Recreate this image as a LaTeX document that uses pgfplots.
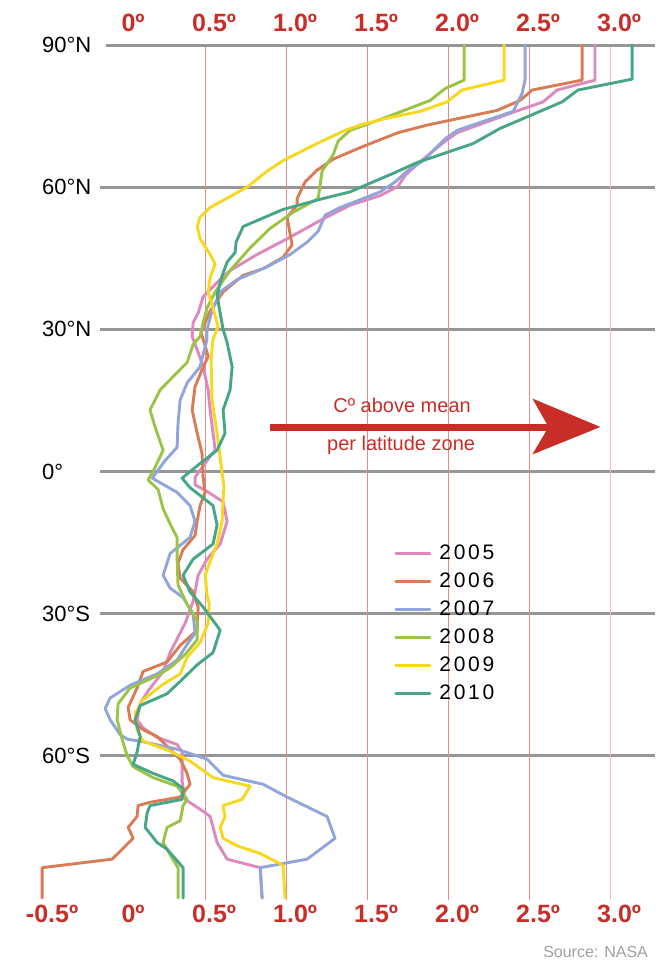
\documentclass[border=0pt]{standalone}
\usepackage{fontspec}
\setmainfont{Liberation Sans}
\newfontfamily\legfont{Liberation Sans}[LetterSpace=13]
\usepackage{pgfplots}
\pgfplotsset{compat=1.18}

\definecolor{c05}{RGB}{222,137,190}
\definecolor{c06}{RGB}{217,124,86}
\definecolor{c07}{RGB}{145,165,218}
\definecolor{c08}{RGB}{155,195,70}
\definecolor{c09}{RGB}{248,216,30}
\definecolor{c10}{RGB}{72,166,135}
\definecolor{labred}{RGB}{200,45,40}
\definecolor{gridgray}{RGB}{150,150,150}
\definecolor{vred}{RGB}{228,140,140}
\definecolor{vpale}{RGB}{240,190,190}
\definecolor{srcgray}{RGB}{160,160,160}

\begin{document}
\begin{tikzpicture}
\path[use as bounding box] (-17.5pt,-33pt) rectangle (314pt,449pt);
\pgfplotsset{base/.style={
  scale only axis, width=311.85pt, height=426.5pt,
  xmin=-0.55, xmax=3.3, ymin=-90, ymax=90,
  axis line style={draw=none}, major tick length=0pt,
  xticklabel style={font=\fontsize{12.5}{14}\selectfont\bfseries, text=labred, xshift=4.5pt},
  clip=false}}

\begin{axis}[base, xticklabel pos=upper, ytick=\empty,
  xtick={0,0.5,1,1.5,2,2.5,3},
  xticklabels={0º\hspace{5pt},0.5º,1.0º,1.5º,2.0º,2.5º,3.0º},
  xticklabel style={yshift=3pt}]
\addplot[draw=none] coordinates {(0,0)};
\end{axis}

\begin{axis}[base, xticklabel pos=lower,
  xtick={-0.5,0,0.5,1,1.5,2,2.5,3},
  xticklabels={-0.5º\hspace{12pt},0º\hspace{5pt},0.5º,1.0º,1.5º,2.0º,2.5º,3.0º},
  ytick={-60,-30,0,30,60,90},
  yticklabels={60°S,30°S,0°,30°N,60°N,90°N},
  yticklabel style={anchor=west, font=\fontsize{11}{13}\selectfont, text=black},
  legend style={draw=none, fill=none, at={(rel axis cs:0.566,0.422)}, anchor=north west,
    font=\legfont\fontsize{10.5}{12}\selectfont, row sep=3.2pt, column sep=3pt, nodes={inner sep=1pt}},
  legend cell align=left,
  legend image code/.code={\draw[#1, line width=1.5pt] (0pt,0pt) -- (17pt,0pt);},
  every axis plot/.append style={line width=1.45pt, line join=round, line cap=round}]

\pgfplotsinvokeforeach{-60,-30,0,30,60}{
  \draw[gridgray, line width=1.5pt] (axis cs:-0.15,#1) -- (axis cs:3.28,#1);
}
\draw[gridgray, line width=1.5pt] (axis cs:-0.11,90) -- (axis cs:3.28,90);
\pgfplotsinvokeforeach{0.5,1,1.5,2,2.5}{
  \draw[vred, line width=0.5pt] (axis cs:#1,89.5) -- (axis cs:#1,-90.5);
}
\draw[vpale, line width=0.6pt] (axis cs:3,89.5) -- (axis cs:3,-90.5);

\addplot[c05] coordinates {(2.907,90) (2.907,82.6) (2.673,80.5) (2.586,78.0) (2.401,75.8) (2.056,71.5) (1.963,69.2) (1.846,65.9) (1.735,62.5) (1.691,60.2) (1.580,58.2) (1.395,56.2) (1.228,53.3) (1.006,49.1) (0.821,45.8) (0.654,42.4) (0.593,40.5) (0.488,36.9) (0.457,33.4) (0.426,31.4) (0.420,28.5) (0.451,25.7) (0.488,22.1) (0.519,17.2) (0.531,13.0) (0.549,8.1) (0.562,4.5) (0.512,2.3) (0.438,-1.2) (0.438,-2.8) (0.512,-4.2) (0.611,-6.4) (0.636,-10.5) (0.593,-15.3) (0.512,-18.5) (0.457,-21.9) (0.438,-25.4) (0.426,-27.4) (0.377,-32.0) (0.284,-38.2) (0.241,-42.2) (0.148,-46.3) (0.099,-49.0) (0.080,-52.4) (0.117,-54.1) (0.204,-56.1) (0.327,-57.6) (0.358,-59.2) (0.358,-65.3) (0.377,-69.2) (0.488,-71.7) (0.531,-72.8) (0.574,-78.3) (0.636,-81.8) (0.840,-83.6) (0.852,-90)};
\addlegendentry{2005}
\addplot[c06] coordinates {(2.827,90) (2.827,82.6) (2.519,80.5) (2.444,78.3) (2.302,76.2) (2.093,74.7) (1.870,73.1) (1.691,71.5) (1.475,68.6) (1.290,65.9) (1.191,63.6) (1.117,61.1) (1.068,57.6) (1.068,56.2) (1.006,53.7) (1.037,47.8) (0.981,45.2) (0.858,42.8) (0.735,41.4) (0.611,37.9) (0.531,33.9) (0.475,29.4) (0.519,24.3) (0.481,21.5) (0.438,17.9) (0.420,13.0) (0.451,8.1) (0.481,3.8) (0.488,-1.2) (0.500,-4.4) (0.469,-7.2) (0.451,-10.5) (0.438,-13.5) (0.364,-16.5) (0.333,-19.3) (0.346,-22.5) (0.426,-25.4) (0.457,-28.6) (0.451,-33.5) (0.346,-36.7) (0.265,-40.2) (0.117,-42.2) (0.080,-45.7) (0.025,-49.8) (0.037,-52.4) (0.117,-54.5) (0.204,-55.9) (0.284,-58.6) (0.346,-60.7) (0.389,-63.7) (0.407,-66.0) (0.346,-68.7) (0.160,-69.8) (0.086,-70.5) (0.080,-72.8) (0.025,-75.1) (0.056,-77.4) (-0.074,-81.8) (-0.506,-83.6) (-0.506,-90)};
\addlegendentry{2006}
\addplot[c07] coordinates {(2.475,90) (2.475,82.6) (2.457,79.8) (2.401,76.0) (2.056,72.0) (1.981,70.2) (1.846,65.6) (1.747,63.4) (1.673,61.1) (1.580,59.0) (1.333,55.7) (1.241,54.1) (1.198,50.7) (1.130,48.4) (1.025,45.8) (0.883,43.2) (0.698,40.5) (0.593,37.9) (0.543,33.9) (0.512,30.0) (0.512,27.9) (0.469,22.1) (0.389,18.7) (0.346,15.1) (0.333,10.2) (0.327,5.1) (0.253,2.3) (0.173,-1.4) (0.327,-4.4) (0.407,-7.2) (0.438,-10.5) (0.407,-13.9) (0.284,-17.3) (0.241,-21.9) (0.284,-24.6) (0.364,-26.6) (0.426,-30.0) (0.438,-34.1) (0.377,-37.1) (0.327,-39.8) (0.204,-42.7) (0.037,-45.1) (-0.086,-47.8) (-0.117,-50.0) (-0.086,-52.4) (-0.025,-55.5) (0.019,-56.5) (0.099,-56.9) (0.327,-58.6) (0.512,-60.7) (0.611,-64.1) (0.858,-66.0) (1.006,-68.7) (1.253,-72.8) (1.302,-77.4) (1.130,-81.8) (0.840,-83.6) (0.852,-90)};
\addlegendentry{2007}
\addplot[c08] coordinates {(2.099,90) (2.099,82.6) (1.981,80.8) (1.889,78.3) (1.660,75.3) (1.488,73.1) (1.395,72.0) (1.321,69.7) (1.290,66.8) (1.222,63.4) (1.198,57.6) (1.043,54.7) (0.901,51.3) (0.778,47.2) (0.654,42.4) (0.562,37.9) (0.512,34.5) (0.488,31.4) (0.469,28.5) (0.426,26.8) (0.389,23.0) (0.302,20.0) (0.222,17.2) (0.160,13.0) (0.191,9.4) (0.241,4.5) (0.191,0.9) (0.148,-1.8) (0.210,-3.8) (0.241,-7.9) (0.296,-11.9) (0.327,-13.9) (0.327,-18.5) (0.333,-24.0) (0.389,-28.0) (0.451,-31.6) (0.451,-35.5) (0.377,-38.6) (0.284,-41.4) (0.204,-43.1) (0.037,-45.7) (-0.037,-49.0) (-0.043,-52.4) (-0.012,-56.5) (0.019,-60.0) (0.056,-62.3) (0.179,-64.6) (0.327,-66.4) (0.389,-69.2) (0.364,-70.5) (0.346,-73.7) (0.265,-75.1) (0.241,-78.3) (0.302,-81.9) (0.333,-83.6) (0.333,-90)};
\addlegendentry{2008}
\addplot[c09] coordinates {(2.346,90) (2.346,82.6) (2.086,80.5) (1.994,78.0) (1.827,76.0) (1.642,74.7) (1.475,73.3) (1.364,72.0) (1.191,69.2) (0.981,65.6) (0.883,63.4) (0.759,60.0) (0.531,55.7) (0.469,53.7) (0.451,51.7) (0.469,49.1) (0.531,45.8) (0.562,43.8) (0.531,40.9) (0.519,37.9) (0.549,34.5) (0.580,30.6) (0.549,27.9) (0.537,23.6) (0.543,15.1) (0.574,8.1) (0.593,3.0) (0.605,-0.4) (0.617,-3.2) (0.611,-5.8) (0.605,-10.5) (0.574,-15.3) (0.543,-17.9) (0.500,-21.9) (0.512,-26.0) (0.525,-27.9) (0.519,-32.0) (0.469,-36.1) (0.389,-39.2) (0.346,-42.7) (0.241,-44.9) (0.117,-48.2) (0.068,-51.0) (0.080,-54.5) (0.117,-56.9) (0.284,-59.0) (0.407,-61.1) (0.549,-64.6) (0.778,-66.4) (0.728,-69.2) (0.611,-70.5) (0.623,-72.8) (0.593,-75.1) (0.611,-77.4) (0.698,-79.0) (0.840,-80.6) (0.981,-83.1) (0.994,-90)};
\addlegendentry{2009}
\addplot[c10] coordinates {(3.136,90) (3.136,82.8) (2.802,80.5) (2.704,78.0) (2.321,72.4) (2.154,69.2) (1.809,65.2) (1.660,62.9) (1.475,60.2) (1.395,59.0) (1.228,57.6) (0.981,55.3) (0.735,51.7) (0.691,48.4) (0.685,46.2) (0.636,44.2) (0.605,41.3) (0.574,37.3) (0.593,33.4) (0.611,30.0) (0.636,27.2) (0.667,22.1) (0.654,17.2) (0.611,13.0) (0.623,8.1) (0.574,4.5) (0.469,1.7) (0.358,-1.4) (0.407,-3.4) (0.549,-7.2) (0.574,-11.3) (0.549,-15.3) (0.426,-18.5) (0.364,-21.9) (0.407,-25.4) (0.488,-28.6) (0.593,-33.5) (0.549,-38.2) (0.451,-40.8) (0.346,-44.3) (0.265,-46.9) (0.099,-49.4) (0.068,-52.4) (0.099,-55.9) (0.080,-59.2) (0.056,-61.8) (0.179,-63.7) (0.302,-65.3) (0.364,-66.9) (0.358,-69.2) (0.160,-70.5) (0.142,-72.1) (0.130,-75.1) (0.204,-78.3) (0.265,-79.7) (0.364,-83.6) (0.364,-90)};
\addlegendentry{2010}

\draw[labred, line width=3.5pt] (axis cs:0.9,9.3) -- (axis cs:2.62,9.3);
\fill[labred] (axis cs:2.52,15.4) -- (axis cs:2.94,9.4) -- (axis cs:2.52,3.6) -- (axis cs:2.62,9.4) -- cycle;
\node[text=labred, font=\fontsize{10}{12}\selectfont] at (axis cs:1.716,13.9) {Cº above mean};
\node[text=labred, font=\fontsize{10}{12}\selectfont] at (axis cs:1.71,5.5) {per latitude zone};
\node[anchor=east, text=srcgray, font=\fontsize{8}{10}\selectfont] at (rel axis cs:0.994,-0.063) {Source: NASA};
\end{axis}
\end{tikzpicture}
\end{document}
